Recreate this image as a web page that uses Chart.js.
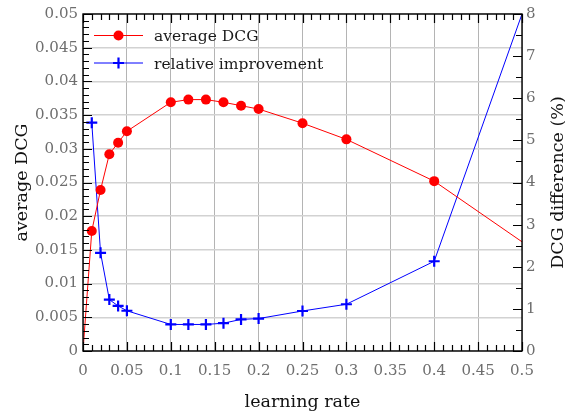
<!DOCTYPE html>
<html>
<head>
<meta charset="utf-8">
<script src="https://cdn.jsdelivr.net/npm/chart.js@4.4.1/dist/chart.umd.min.js"></script>
<style>
  html, body { margin: 0; padding: 0; background: #ffffff; }
  #wrap { width: 565px; height: 418px; position: relative; }
</style>
</head>
<body>
<div id="wrap"><canvas id="c" width="565" height="418"></canvas></div>
<script>
// ---- data ----
const dcgRates = [0, 0.01, 0.02, 0.03, 0.04, 0.05, 0.1, 0.12, 0.14, 0.16, 0.18, 0.2, 0.25, 0.3, 0.4, 0.5];
const averageDCG = [0, 0.0178, 0.0239, 0.0292, 0.0309, 0.0326, 0.0369, 0.0373, 0.0373, 0.0369, 0.0364, 0.0359, 0.0338, 0.0314, 0.0252, 0.0162];
const impRates = [0.01, 0.02, 0.03, 0.04, 0.05, 0.1, 0.12, 0.14, 0.16, 0.18, 0.2, 0.25, 0.3, 0.4, 0.5];
const relativeImprovement = [5.42, 2.33, 1.22, 1.07, 0.955, 0.63, 0.63, 0.63, 0.66, 0.75, 0.77, 0.95, 1.11, 2.13, 8.0];
const xTickLabels = ['0', '0.05', '0.1', '0.15', '0.2', '0.25', '0.3', '0.35', '0.4', '0.45', '0.5'];
const seriesNames = ['average DCG', 'relative improvement'];
const axisTitles = { x: 'learning rate', y: 'average DCG', y1: 'DCG difference (%)' };

const SERIF = '"DejaVu Serif", "Liberation Serif", serif';
const TICK_COLOR = '#6e6e6e';

// markers hidden at points lying on the plot border
const edgeRadius = (xs, r) => xs.map(v => (v <= 0 || v >= 0.5) ? 0 : r);

const dcgData = dcgRates.map((x, i) => ({ x, y: averageDCG[i] }));
const impData = impRates.map((x, i) => ({ x, y: relativeImprovement[i] }));

// custom ticks (inward, all sides), frame, legend and right title
const decorPlugin = {
  id: 'decor',
  afterDatasetsDraw(chart) {
    const { ctx, chartArea: a, scales } = chart;
    const xs = scales.x, ys = scales.y, y1 = scales.y1;
    ctx.save();
    ctx.strokeStyle = '#000';
    ctx.lineWidth = 1.2;
    ctx.beginPath();
    // x ticks: minor each 0.01, major each 0.05, bottom and top
    for (let i = 0; i <= 50; i++) {
      const px = Math.round(xs.getPixelForValue(i / 100)) + 0.5;
      const len = (i % 5 === 0) ? 9 : 6;
      ctx.moveTo(px, a.bottom); ctx.lineTo(px, a.bottom - len);
      ctx.moveTo(px, a.top); ctx.lineTo(px, a.top + len);
    }
    // left y ticks: minor each 0.001, major each 0.005
    for (let i = 0; i <= 50; i++) {
      const py = Math.round(ys.getPixelForValue(i / 1000)) + 0.5;
      const len = (i % 5 === 0) ? 9 : 6;
      ctx.moveTo(a.left, py); ctx.lineTo(a.left + len, py);
    }
    // right y ticks: minor each 0.5, major each 1
    for (let i = 0; i <= 16; i++) {
      const py = Math.round(y1.getPixelForValue(i / 2)) + 0.5;
      const len = (i % 2 === 0) ? 9 : 6;
      ctx.moveTo(a.right, py); ctx.lineTo(a.right - len, py);
    }
    ctx.stroke();
    // frame
    ctx.lineWidth = 1.4;
    ctx.strokeRect(a.left, a.top, a.right - a.left, a.bottom - a.top);

    // legend (no background)
    const ds = chart.data.datasets;
    const lx0 = a.left + 11, lx1 = a.left + 60, lmid = (lx0 + lx1) / 2;
    const rows = [a.top + 21.5, a.top + 49];
    ds.forEach((d, i) => {
      const yy = rows[i];
      ctx.strokeStyle = d.borderColor;
      ctx.lineWidth = 1;
      ctx.beginPath(); ctx.moveTo(lx0, yy); ctx.lineTo(lx1, yy); ctx.stroke();
      if (d.pointStyle === 'circle') {
        ctx.fillStyle = d.backgroundColor;
        ctx.beginPath(); ctx.arc(lmid, yy, 5, 0, Math.PI * 2); ctx.fill();
      } else {
        ctx.lineWidth = 2.2;
        ctx.beginPath();
        ctx.moveTo(lmid - 5.5, yy); ctx.lineTo(lmid + 5.5, yy);
        ctx.moveTo(lmid, yy - 5.5); ctx.lineTo(lmid, yy + 5.5);
        ctx.stroke();
      }
      ctx.fillStyle = '#1a1a1a';
      ctx.font = '15.5px ' + SERIF;
      ctx.textAlign = 'left';
      ctx.textBaseline = 'alphabetic';
      ctx.fillText(d.label, a.left + 71, yy + 5.5);
    });

    // right axis title, reading bottom-to-top
    ctx.save();
    ctx.translate(chart.width - 2, (a.top + a.bottom) / 2);
    ctx.rotate(-Math.PI / 2);
    ctx.fillStyle = '#111';
    ctx.font = '17.5px ' + SERIF;
    ctx.textAlign = 'center';
    ctx.textBaseline = 'alphabetic';
    ctx.fillText(chart.options.scales.y1.title.text, 0, 0);
    ctx.restore();
    ctx.restore();
  }
};

new Chart(document.getElementById('c'), {
  type: 'line',
  data: {
    datasets: [
      {
        label: seriesNames[0],
        data: dcgData,
        yAxisID: 'y',
        borderColor: '#ff0000',
        backgroundColor: '#ff0000',
        borderWidth: 1,
        pointStyle: 'circle',
        pointRadius: edgeRadius(dcgRates, 5),
        pointBorderWidth: 0,
        pointBackgroundColor: '#ff0000',
        tension: 0
      },
      {
        label: seriesNames[1],
        data: impData,
        yAxisID: 'y1',
        borderColor: '#0000ff',
        backgroundColor: '#0000ff',
        borderWidth: 1,
        pointStyle: 'cross',
        pointRadius: edgeRadius(impRates, 5.5),
        pointBorderWidth: 2.2,
        pointBorderColor: '#0000ff',
        tension: 0
      }
    ]
  },
  options: {
    responsive: false,
    animation: false,
    events: [],
    layout: { padding: { top: 13, left: 0, right: 0, bottom: 0 } },
    plugins: { legend: { display: false }, tooltip: { enabled: false } },
    scales: {
      x: {
        type: 'linear',
        min: 0, max: 0.5,
        afterFit(s) { s.height = 67; },
        afterBuildTicks(s) { s.ticks = xTickLabels.map(t => ({ value: parseFloat(t) })); },
        ticks: {
          callback: (v, i) => xTickLabels[i],
          color: TICK_COLOR,
          font: { family: SERIF, size: 15 },
          padding: 11,
          maxRotation: 0,
          autoSkip: false
        },
        grid: { color: '#b4b4b4', lineWidth: 1, drawTicks: false },
        border: { display: false },
        title: { display: true, text: axisTitles.x, color: '#111', font: { family: SERIF, size: 17.5 }, padding: { top: 0, bottom: 5 } }
      },
      y: {
        type: 'linear',
        position: 'left',
        min: 0, max: 0.05,
        afterFit(s) { s.width = 83; },
        ticks: {
          stepSize: 0.005,
          callback: v => String(+v.toFixed(3)),
          color: TICK_COLOR,
          font: { family: SERIF, size: 15 },
          padding: 5
        },
        grid: { color: '#d2d2d2', lineWidth: 1.5, drawTicks: false },
        border: { display: false },
        title: { display: true, text: axisTitles.y, color: '#111', font: { family: SERIF, size: 17.5 }, padding: { top: 12, bottom: 0 } }
      },
      y1: {
        type: 'linear',
        position: 'right',
        min: 0, max: 8,
        afterFit(s) { s.width = 43; },
        ticks: {
          stepSize: 1,
          color: TICK_COLOR,
          font: { family: SERIF, size: 15 },
          padding: 4
        },
        grid: { drawOnChartArea: false, drawTicks: false },
        border: { display: false },
        title: { display: false, text: axisTitles.y1 }
      }
    }
  },
  plugins: [decorPlugin]
});
</script>
</body>
</html>
